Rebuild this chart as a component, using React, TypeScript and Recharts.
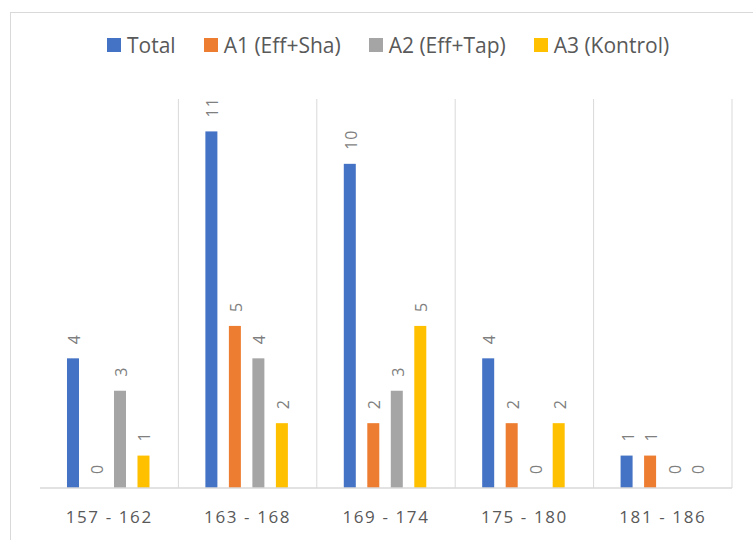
import { BarChart, Bar, XAxis, YAxis, CartesianGrid, LabelList } from 'recharts'

const categories = ['157 - 162', '163 - 168', '169 - 174', '175 - 180', '181 - 186']
const total = [4, 11, 10, 4, 1]
const a1 = [0, 5, 2, 2, 1]
const a2 = [3, 4, 3, 0, 0]
const a3 = [1, 2, 5, 2, 0]

const seriesList = [
  { key: 'total', name: 'Total', color: '#4472C4' },
  { key: 'a1', name: 'A1 (Eff+Sha)', color: '#ED7D31' },
  { key: 'a2', name: 'A2 (Eff+Tap)', color: '#A5A5A5' },
  { key: 'a3', name: 'A3 (Kontrol)', color: '#FFC000' },
]

const data = categories.map((c, i) => ({
  name: c,
  total: total[i],
  a1: a1[i],
  a2: a2[i],
  a3: a3[i],
}))

const FONT = '"Open Sans", "Liberation Sans", sans-serif'

const BarLabel = (props: any) => {
  const { x, y, width, height, value } = props
  const top = value === 0 ? y + height : y
  const cx = x + width / 2 + 1
  const cy = top - 14
  return (
    <text
      x={cx}
      y={cy}
      transform={`rotate(-90, ${cx}, ${cy})`}
      textAnchor="start"
      dominantBaseline="central"
      fill="#7f7f7f"
      fontSize={16}
      letterSpacing={1}
      fontFamily={FONT}
    >
      {value}
    </text>
  )
}

// zero bars get a tiny height so their labels still show; draw nothing for them
const BarShape = (props: any) => {
  const { x, y, width, height, fill, value } = props
  const v = Array.isArray(value) ? value[1] - value[0] : value
  if (!v) return <g />
  return <rect x={x} y={y} width={width} height={height} fill={fill} />
}

const XTick = (props: any) => {
  const { x, y, payload } = props
  return (
    <text x={x} y={y + 20} textAnchor="middle" dominantBaseline="central" fill="#595959" fontSize={17} letterSpacing={1.6} fontFamily={FONT}>
      {payload.value}
    </text>
  )
}

export default function App() {
  return (
    <div style={{ position: 'absolute', left: 0, top: 0, width: 753, height: 540, background: '#fff', overflow: 'hidden' }}>
      <div style={{ position: 'absolute', left: 10, top: 12, width: 760, height: 560, border: '1px solid #d9d9d9', boxSizing: 'border-box' }} />
      <div style={{ position: 'absolute', left: 107, top: 31, display: 'flex', alignItems: 'center', gap: 28, fontFamily: FONT, fontSize: 21, color: '#595959' }}>
        {seriesList.map(s => (
          <div key={s.key} style={{ display: 'flex', alignItems: 'center' }}>
            <span style={{ display: 'inline-block', width: 14, height: 14, background: s.color, marginRight: 6 }} />
            <span>{s.name}</span>
          </div>
        ))}
      </div>
      <BarChart
        width={753}
        height={540}
        data={data}
        margin={{ top: 99, right: 21, bottom: 22, left: 40 }}
        barCategoryGap="19.5%"
        barGap={11.5}
        style={{ position: 'absolute', left: 0, top: 0 }}
      >
        <CartesianGrid
          horizontal={false}
          stroke="#d9d9d9"
          verticalCoordinatesGenerator={({ offset }: any) =>
            categories.map((_, i) => offset.left + ((i + 1) * offset.width) / categories.length)
          }
        />
        <XAxis dataKey="name" axisLine={{ stroke: '#d9d9d9', strokeWidth: 1.5 }} tickLine={false} tick={<XTick />} height={30} interval={0} />
        <YAxis hide domain={[0, 12]} />
        {seriesList.map(s => (
          <Bar key={s.key} dataKey={s.key} name={s.name} fill={s.color} minPointSize={0.01} shape={<BarShape />} isAnimationActive={false}>
            <LabelList dataKey={s.key} content={<BarLabel />} />
          </Bar>
        ))}
      </BarChart>
    </div>
  )
}
